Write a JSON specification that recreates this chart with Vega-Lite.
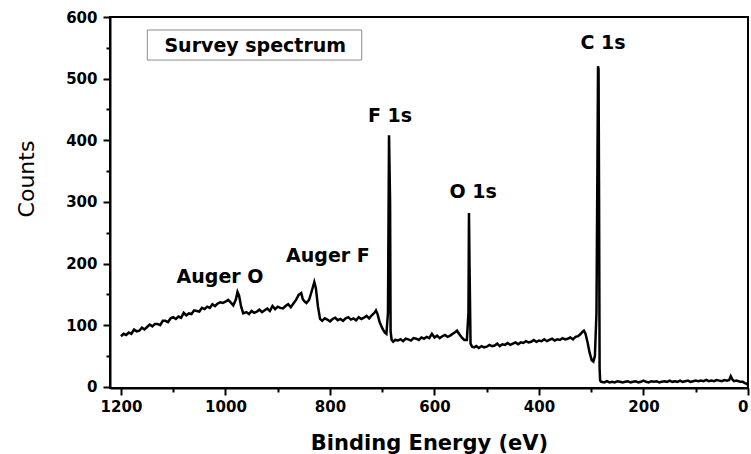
{
  "$schema": "https://vega.github.io/schema/vega-lite/v6.json",
  "width": 638,
  "height": 371,
  "autosize": {"type": "none"},
  "padding": {"left": 110, "top": 17, "right": 3, "bottom": 66},
  "background": "white",
  "config": {
    "view": {"stroke": "black", "strokeWidth": 2},
    "axis": {"grid": false, "domainColor": "black", "domainWidth": 2, "tickColor": "black", "tickWidth": 2, "labelColor": "black", "titleColor": "black"}
  },
  "datasets": {
    "spectrum": [
      {"x":1200,"y":82},{"x":1195,"y":86},{"x":1190,"y":84},{"x":1185,"y":88},{"x":1180,"y":86},{"x":1175,"y":93},{"x":1170,"y":90},{"x":1165,"y":91},{"x":1160,"y":96},{"x":1155,"y":93},{"x":1150,"y":97},{"x":1145,"y":101},{"x":1140,"y":98},{"x":1135,"y":102},{"x":1130,"y":102},{"x":1125,"y":100},{"x":1120,"y":107},{"x":1115,"y":107},{"x":1110,"y":105},{"x":1105,"y":111},{"x":1100,"y":113},{"x":1095,"y":110},{"x":1090,"y":114},{"x":1085,"y":112},{"x":1080,"y":120},{"x":1075,"y":116},{"x":1070,"y":119},{"x":1065,"y":118},{"x":1060,"y":124},{"x":1055,"y":123},{"x":1050,"y":122},{"x":1045,"y":128},{"x":1040,"y":126},{"x":1035,"y":130},{"x":1030,"y":128},{"x":1025,"y":134},{"x":1020,"y":131},{"x":1015,"y":135},{"x":1010,"y":137},{"x":1005,"y":136},{"x":1000,"y":138},{"x":995,"y":141},{"x":990,"y":137},{"x":985,"y":132},{"x":980,"y":142},{"x":977,"y":154},{"x":974,"y":148},{"x":970,"y":130},{"x":966,"y":119},{"x":960,"y":121},{"x":955,"y":118},{"x":950,"y":123},{"x":945,"y":120},{"x":940,"y":122},{"x":935,"y":125},{"x":930,"y":121},{"x":925,"y":124},{"x":920,"y":127},{"x":915,"y":123},{"x":910,"y":131},{"x":905,"y":126},{"x":900,"y":130},{"x":895,"y":128},{"x":890,"y":127},{"x":885,"y":131},{"x":880,"y":134},{"x":875,"y":129},{"x":870,"y":135},{"x":865,"y":141},{"x":860,"y":149},{"x":855,"y":152},{"x":852,"y":142},{"x":848,"y":138},{"x":845,"y":136},{"x":840,"y":141},{"x":835,"y":155},{"x":830,"y":170},{"x":827,"y":160},{"x":823,"y":130},{"x":819,"y":110},{"x":815,"y":107},{"x":810,"y":111},{"x":805,"y":109},{"x":800,"y":106},{"x":795,"y":110},{"x":790,"y":112},{"x":785,"y":108},{"x":780,"y":110},{"x":775,"y":107},{"x":770,"y":111},{"x":765,"y":113},{"x":760,"y":109},{"x":755,"y":111},{"x":750,"y":108},{"x":745,"y":113},{"x":740,"y":110},{"x":735,"y":112},{"x":730,"y":115},{"x":725,"y":111},{"x":720,"y":116},{"x":715,"y":120},{"x":712,"y":124},{"x":709,"y":118},{"x":705,"y":105},{"x":700,"y":95},{"x":695,"y":88},{"x":692,"y":86},{"x":689,"y":120},{"x":687,"y":408},{"x":685,"y":300},{"x":684,"y":90},{"x":682,"y":76},{"x":679,"y":73},{"x":675,"y":76},{"x":670,"y":75},{"x":665,"y":77},{"x":660,"y":74},{"x":655,"y":78},{"x":650,"y":77},{"x":645,"y":75},{"x":640,"y":79},{"x":635,"y":78},{"x":630,"y":76},{"x":625,"y":80},{"x":620,"y":78},{"x":615,"y":81},{"x":610,"y":79},{"x":605,"y":86},{"x":600,"y":80},{"x":595,"y":83},{"x":590,"y":79},{"x":585,"y":82},{"x":580,"y":84},{"x":575,"y":81},{"x":570,"y":83},{"x":565,"y":86},{"x":560,"y":89},{"x":557,"y":91},{"x":553,"y":86},{"x":548,"y":80},{"x":543,"y":76},{"x":538,"y":76},{"x":535,"y":120},{"x":534,"y":282},{"x":533,"y":200},{"x":531,"y":70},{"x":528,"y":65},{"x":524,"y":64},{"x":520,"y":66},{"x":515,"y":63},{"x":510,"y":66},{"x":505,"y":64},{"x":500,"y":65},{"x":495,"y":68},{"x":490,"y":66},{"x":485,"y":67},{"x":480,"y":70},{"x":475,"y":66},{"x":470,"y":69},{"x":465,"y":68},{"x":460,"y":71},{"x":455,"y":68},{"x":450,"y":70},{"x":445,"y":72},{"x":440,"y":69},{"x":435,"y":72},{"x":430,"y":71},{"x":425,"y":74},{"x":420,"y":72},{"x":415,"y":73},{"x":410,"y":76},{"x":405,"y":73},{"x":400,"y":75},{"x":395,"y":74},{"x":390,"y":77},{"x":385,"y":74},{"x":380,"y":76},{"x":375,"y":78},{"x":370,"y":75},{"x":365,"y":77},{"x":360,"y":76},{"x":355,"y":79},{"x":350,"y":77},{"x":345,"y":78},{"x":340,"y":80},{"x":335,"y":77},{"x":330,"y":81},{"x":325,"y":82},{"x":320,"y":86},{"x":317,"y":89},{"x":314,"y":91},{"x":311,"y":86},{"x":307,"y":72},{"x":303,"y":55},{"x":299,"y":43},{"x":296,"y":41},{"x":293,"y":50},{"x":290,"y":120},{"x":288,"y":380},{"x":287,"y":520},{"x":286,"y":515},{"x":285,"y":300},{"x":284,"y":30},{"x":283,"y":10},{"x":281,"y":8},{"x":275,"y":7},{"x":270,"y":9},{"x":265,"y":7},{"x":260,"y":8},{"x":255,"y":7},{"x":250,"y":9},{"x":245,"y":8},{"x":240,"y":7},{"x":235,"y":8},{"x":230,"y":9},{"x":225,"y":7},{"x":220,"y":8},{"x":215,"y":9},{"x":210,"y":7},{"x":205,"y":8},{"x":200,"y":10},{"x":195,"y":8},{"x":190,"y":7},{"x":185,"y":9},{"x":180,"y":8},{"x":175,"y":9},{"x":170,"y":7},{"x":165,"y":8},{"x":160,"y":9},{"x":155,"y":8},{"x":150,"y":10},{"x":145,"y":8},{"x":140,"y":9},{"x":135,"y":8},{"x":130,"y":10},{"x":125,"y":8},{"x":120,"y":9},{"x":115,"y":10},{"x":110,"y":8},{"x":105,"y":9},{"x":100,"y":10},{"x":95,"y":9},{"x":90,"y":10},{"x":85,"y":9},{"x":80,"y":11},{"x":75,"y":9},{"x":70,"y":10},{"x":65,"y":9},{"x":60,"y":11},{"x":55,"y":10},{"x":50,"y":9},{"x":45,"y":11},{"x":40,"y":10},{"x":36,"y":11},{"x":33,"y":17},{"x":30,"y":12},{"x":27,"y":9},{"x":22,"y":10},{"x":18,"y":9},{"x":14,"y":8},{"x":10,"y":8},{"x":6,"y":6},{"x":3,"y":5},{"x":0,"y":3}
    ],
    "labels": [
      {"x":1010.5,"y":168,"t":"Auger O"},
      {"x":804,"y":203,"t":"Auger F"},
      {"x":685,"y":430,"t":"F 1s"},
      {"x":526,"y":306,"t":"O 1s"},
      {"x":277.5,"y":547.6,"t":"C 1s"},
      {"x":943,"y":544,"t":"Survey spectrum"}
    ],
    "box": [{"x":1149.6,"x2":739.3,"y":578.9,"y2":530.2}],
    "minor": [{"x":1100,"y":50}]
  },
  "layer": [
    {
      "data": {"name": "box"},
      "mark": {"type": "rect", "fill": "white", "stroke": "#8c8c8c", "strokeWidth": 1},
      "encoding": {
        "x": {"field": "x", "type": "quantitative", "scale": {"domain": [1221, 0], "nice": false, "zero": false}, "axis": null},
        "x2": {"field": "x2"},
        "y": {"field": "y", "type": "quantitative", "scale": {"domain": [-2, 600], "nice": false}, "axis": null},
        "y2": {"field": "y2"}
      }
    },
    {
      "data": {"name": "spectrum"},
      "mark": {"type": "line", "color": "black", "strokeWidth": 2.5, "clip": true},
      "encoding": {
        "x": {"field": "x", "type": "quantitative", "scale": {"domain": [1221, 0], "nice": false, "zero": false},
          "axis": {"orient": "bottom", "values": [1200, 1000, 800, 600, 400, 200, 0], "format": "d", "title": "Binding Energy (eV)", "tickSize": 7, "labelFont": "DejaVu Sans", "labelFontWeight": "bold", "labelFontSize": 15, "labelPadding": 4, "labelFlush": true, "labelOverlap": false, "titleFont": "DejaVu Sans", "titleFontWeight": "bold", "titleFontSize": 21, "titleY": 61, "titleBaseline": "alphabetic"}},
        "y": {"field": "y", "type": "quantitative", "scale": {"domain": [-2, 600], "nice": false},
          "axis": {"orient": "left", "values": [0, 100, 200, 300, 400, 500, 600], "format": "d", "title": "Counts", "tickSize": 7, "labelFont": "DejaVu Sans", "labelFontWeight": "bold", "labelFontSize": 15, "labelPadding": 6, "labelFlush": false, "labelOverlap": false, "titleFont": "DejaVu Sans", "titleFontWeight": "normal", "titleFontSize": 22, "titleAngle": -90, "titleX": -77, "titleY": 161.5, "titleAlign": "center", "titleBaseline": "alphabetic"}}
      }
    },
    {
      "data": {"name": "minor"},
      "mark": {"type": "point", "opacity": 0},
      "encoding": {
        "x": {"field": "x", "type": "quantitative", "scale": {"domain": [1221, 0], "nice": false, "zero": false},
          "axis": {"orient": "bottom", "values": [1100, 900, 700, 500, 300, 100], "labels": false, "domain": false, "tickSize": 4, "title": null}},
        "y": {"field": "y", "type": "quantitative", "scale": {"domain": [-2, 600], "nice": false},
          "axis": {"orient": "left", "values": [50, 150, 250, 350, 450, 550], "labels": false, "domain": false, "tickSize": 4, "title": null}}
      }
    },
    {
      "data": {"name": "labels"},
      "mark": {"type": "text", "font": "DejaVu Sans", "fontWeight": "bold", "fontSize": 19, "align": "center", "baseline": "alphabetic", "color": "black"},
      "encoding": {
        "x": {"field": "x", "type": "quantitative", "scale": {"domain": [1221, 0], "nice": false, "zero": false}, "axis": null},
        "y": {"field": "y", "type": "quantitative", "scale": {"domain": [-2, 600], "nice": false}, "axis": null},
        "text": {"field": "t"}
      }
    }
  ],
  "resolve": {"axis": {"x": "independent", "y": "independent"}}
}
